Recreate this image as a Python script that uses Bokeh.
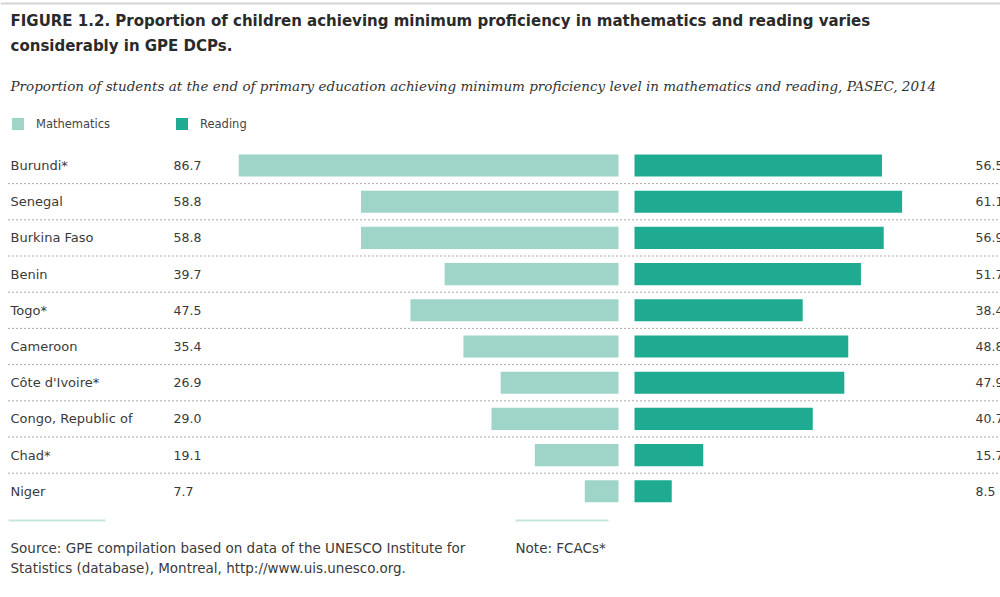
from bokeh.plotting import figure
from bokeh.models import Range1d, Label, Legend, LegendItem
from bokeh.core.properties import value
from bokeh.embed import file_html
from bokeh.resources import INLINE

countries = ["Burundi*", "Senegal", "Burkina Faso", "Benin", "Togo*", "Cameroon",
             "Côte d'Ivoire*", "Congo, Republic of", "Chad*", "Niger"]
mathematics = [86.7, 58.8, 58.8, 39.7, 47.5, 35.4, 26.9, 29.0, 19.1, 7.7]
reading = [56.5, 61.1, 56.9, 51.7, 38.4, 48.8, 47.9, 40.7, 15.7, 8.5]

MATH_C = "#9fd5c9"
READ_C = "#1fab91"
TXT = "#3a3a3a"

W, H = 1000, 597
PX = 4.38          # pixels per percentage point
ROW = 36.2         # pixels per row
x0 = -(618 / PX)
x1 = x0 + W / PX
ytop = 165 / ROW
ybot = ytop - H / ROW
GAP = 16 / PX


def sx(page_x):
    return x0 + page_x / PX


def sy(page_y):
    return ytop - page_y / ROW


def ly(page_y):
    return H - page_y


p = figure(width=W, height=H, x_range=Range1d(x0, x1), y_range=Range1d(ybot, ytop),
           output_backend="svg", toolbar_location=None, min_border=0,
           x_axis_type=None, y_axis_type=None)
p.grid.visible = False
p.outline_line_color = None
p.background_fill_color = "white"

ys = [-i for i in range(len(countries))]

# top rule
p.segment(x0=sx(0), x1=sx(1000), y0=sy(3), y1=sy(3), line_color="#d4d4d4", line_width=2)

# separators
p.segment(x0=sx(8), x1=sx(1000), y0=[-(i + 0.5) for i in range(len(countries) - 1)],
          y1=[-(i + 0.5) for i in range(len(countries) - 1)],
          line_color="#555555", line_width=1, line_dash="1 3")

r_math = p.hbar(y=ys, left=[-v for v in mathematics], right=0, height=0.61,
                fill_color=MATH_C, line_color=None)
r_read = p.hbar(y=ys, left=GAP, right=[GAP + v for v in reading], height=0.61,
                fill_color=READ_C, line_color=None)

FONT = value("DejaVu Sans")
p.text(x=sx(10), y=ys, text=countries, text_baseline="middle", text_font=FONT,
       text_font_size="13px", text_color=TXT)
p.text(x=sx(173), y=ys, text=[f"{v:.1f}" for v in mathematics], text_baseline="middle",
       text_font=FONT, text_font_size="12.5px", text_color=TXT)
p.text(x=sx(975), y=ys, text=[f"{v:.1f}" for v in reading], text_baseline="middle",
       text_font=FONT, text_font_size="12.5px", text_color=TXT)

# bottom rules
p.segment(x0=[sx(8), sx(515)], x1=[sx(105), sx(608)], y0=sy(520), y1=sy(520),
          line_color="#c5e6dc", line_width=2)

legend = Legend(items=[LegendItem(label="Mathematics", renderers=[r_math]),
                       LegendItem(label="Reading", renderers=[r_read])],
                orientation="horizontal", location=(10, ly(131)),
                glyph_width=15, glyph_height=15, label_height=15, label_width=128,
                label_standoff=11, spacing=10, padding=0, margin=0,
                border_line_color=None, background_fill_alpha=0,
                label_text_font="DejaVu Sans", label_text_font_size="11.5px",
                label_text_color="#444444")
p.add_layout(legend)

p.add_layout(Label(x=10, y=ly(20), x_units="screen", y_units="screen",
                   text="FIGURE 1.2. Proportion of children achieving minimum proficiency in mathematics and reading varies",
                   text_font="DejaVu Sans", text_font_style="bold", text_font_size="15px",
                   text_color="#2a2a2a", text_baseline="middle"))
p.add_layout(Label(x=10, y=ly(45), x_units="screen", y_units="screen",
                   text="considerably in GPE DCPs.",
                   text_font="DejaVu Sans", text_font_style="bold", text_font_size="15px",
                   text_color="#2a2a2a", text_baseline="middle"))
p.add_layout(Label(x=10, y=ly(85), x_units="screen", y_units="screen",
                   text="Proportion of students at the end of primary education achieving minimum proficiency level in mathematics and reading, PASEC, 2014",
                   text_font="DejaVu Serif", text_font_style="italic", text_font_size="13.5px",
                   text_color="#333333", text_baseline="middle"))
p.add_layout(Label(x=10, y=ly(547), x_units="screen", y_units="screen",
                   text="Source: GPE compilation based on data of the UNESCO Institute for",
                   text_font="DejaVu Sans", text_font_size="13.5px", text_color=TXT, text_baseline="middle"))
p.add_layout(Label(x=10, y=ly(567), x_units="screen", y_units="screen",
                   text="Statistics (database), Montreal, http://www.uis.unesco.org.",
                   text_font="DejaVu Sans", text_font_size="13.5px", text_color=TXT, text_baseline="middle"))
p.add_layout(Label(x=515, y=ly(547), x_units="screen", y_units="screen",
                   text="Note: FCACs*",
                   text_font="DejaVu Sans", text_font_size="13.5px", text_color=TXT, text_baseline="middle"))

open("out.html", "w").write(file_html(p, INLINE))
